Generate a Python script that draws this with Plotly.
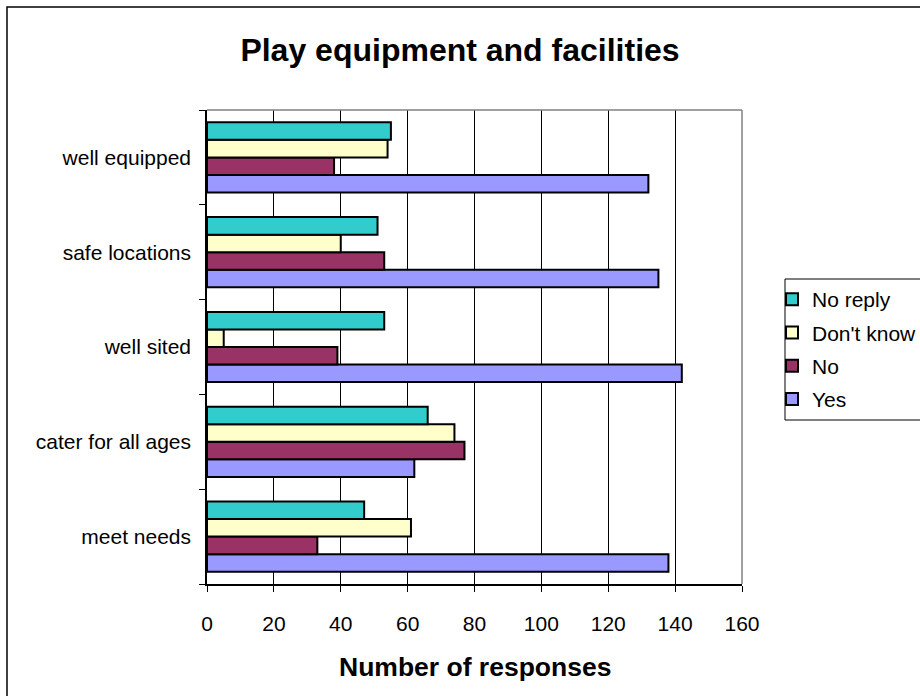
import plotly.graph_objects as go

# Categories in Excel order (first = bottom)
categories = ["meet needs", "cater for all ages", "well sited", "safe locations", "well equipped"]

# Series (first listed = bottom bar of each group)
yes_vals = [138, 62, 142, 135, 132]
no_vals = [33, 77, 39, 53, 38]
dont_know_vals = [61, 74, 5, 40, 54]
no_reply_vals = [47, 66, 53, 51, 55]

series_names = ["Yes", "No", "Don't know", "No reply"]
series_values = [yes_vals, no_vals, dont_know_vals, no_reply_vals]
series_colors = ["#9999FF", "#993366", "#FFFFCC", "#33CCCC"]
legend_ranks = [4, 3, 2, 1]

x_ticks = [0, 20, 40, 60, 80, 100, 120, 140, 160]

FONT = "Arial, Liberation Sans, sans-serif"

fig = go.Figure()
for name, vals, col, rank in zip(series_names, series_values, series_colors, legend_ranks):
    fig.add_trace(go.Bar(
        y=categories, x=vals, name=name, orientation="h",
        marker=dict(color=col, line=dict(color="black", width=2)),
        legendgroup=name, legendrank=rank,
    ))

W, H = 920, 696
L, R, T, B = 207, 742, 110, 584
pw, ph = R - L, B - T

def px_x(x):  # screen x -> paper
    return (x - L) / pw

def px_y(y):  # screen y -> paper
    return (B - y) / ph

fig.update_layout(
    width=W, height=H,
    margin=dict(l=L, r=W - R, t=T, b=H - B, pad=0, autoexpand=False),
    paper_bgcolor="white", plot_bgcolor="white",
    barmode="group", bargap=0.26, bargroupgap=0,
    font=dict(family=FONT, size=21, color="black"),
    title=dict(text="Play equipment and facilities",
               font=dict(family=FONT, size=32, color="black", weight="bold"),
               x=0.5, xref="container", xanchor="center",
               y=1 - 50 / H, yref="container", yanchor="middle"),
    xaxis=dict(range=[0, 160], tickvals=x_ticks, ticks="outside", ticklen=6,
               tickcolor="black", showline=True, linecolor="black", linewidth=1.5,
               showgrid=True, gridcolor="black", gridwidth=1, zeroline=False,
               automargin=False,
               ticklabelstandoff=14, tickfont=dict(size=21)),
    yaxis=dict(type="category", ticks="outside", tickson="boundaries", ticklen=6,
               tickcolor="black", showline=True, linecolor="black", linewidth=1.5,
               showgrid=False, automargin=False,
               ticklabelstandoff=10, tickfont=dict(size=21)),
    legend=dict(x=px_x(772), y=px_y(279), xanchor="left", yanchor="top",
                xref="paper", yref="paper",
                borderwidth=0, bgcolor="rgba(0,0,0,0)",
                traceorder="grouped", tracegroupgap=3, itemwidth=30,
                font=dict(family=FONT, size=21, color="black")),
    showlegend=True,
)

fig.add_annotation(text="<b>Number of responses</b>", x=0.5, xref="paper",
                   y=px_y(667), yref="paper", yanchor="middle", showarrow=False,
                   font=dict(family=FONT, size=26.5, color="black"))

# plot area top/right border (grey)
fig.add_shape(type="line", xref="paper", yref="paper", x0=0, x1=1, y0=1, y1=1,
              line=dict(color="#808080", width=1.5), layer="above")
fig.add_shape(type="line", xref="paper", yref="paper", x0=1, x1=1, y0=0, y1=1,
              line=dict(color="#808080", width=1.5), layer="above")
# legend box
fig.add_shape(type="rect", xref="paper", yref="paper",
              x0=px_x(785), x1=px_x(960), y0=px_y(420), y1=px_y(279),
              line=dict(color="black", width=1), fillcolor="white", layer="below")
# outer chart border
fig.add_shape(type="rect", xref="paper", yref="paper",
              x0=px_x(7), x1=px_x(960), y0=px_y(720), y1=px_y(7),
              line=dict(color="black", width=1.5), fillcolor="rgba(0,0,0,0)")

fig.write_html(
    "out.html",
    config={"displayModeBar": False},
    post_script="document.body.style.margin='0';document.body.style.overflow='hidden';",
)
